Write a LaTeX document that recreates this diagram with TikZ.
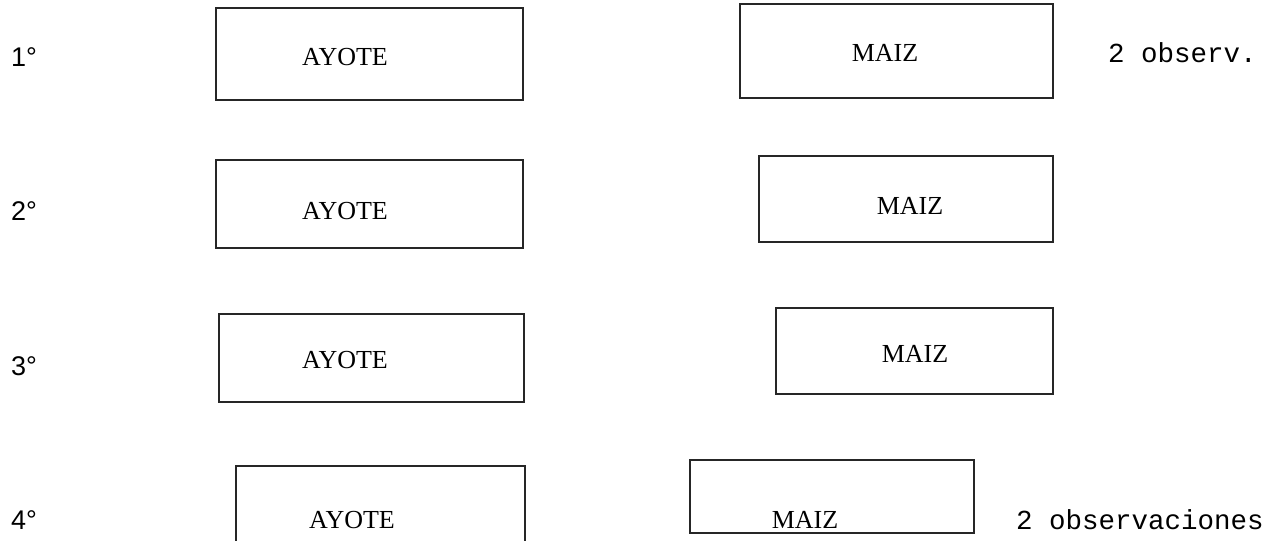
\documentclass[tikz,border=0pt]{standalone}
\usepackage{fontspec}
\setmainfont{Liberation Serif}
\newfontfamily\monof{Liberation Mono}
\newfontfamily\sansf{Liberation Sans}
\begin{document}
\begin{tikzpicture}[x=1pt,y=-1pt]
\tikzset{
  plotbox/.style={draw=black!85, line width=1.2pt, inner sep=0pt},
  croplabel/.style={inner sep=0pt, font=\fontsize{26}{29}\selectfont},
  rowlabel/.style={inner sep=0pt, font=\sansf\fontsize{27}{30}\selectfont},
  notelabel/.style={inner sep=0pt, font=\monof\fontsize{27.5}{30}\selectfont}
}
\useasboundingbox (0,0) rectangle (1278,541);
% row labels
\node[rowlabel] (r1) at (24,57) {1°};
\node[rowlabel] (r2) at (24,211) {2°};
\node[rowlabel] (r3) at (24,366) {3°};
\node[rowlabel] (r4) at (24,520) {4°};
% boxes
\draw[plotbox] (216,8) rectangle (523,100);
\draw[plotbox] (740,4) rectangle (1053,98);
\draw[plotbox] (216,160) rectangle (523,248);
\draw[plotbox] (759,156) rectangle (1053,242);
\draw[plotbox] (219,314) rectangle (524,402);
\draw[plotbox] (776,308) rectangle (1053,394);
\draw[plotbox] (236,466) rectangle (525,545);
\draw[plotbox] (690,460) rectangle (974,533);
% texts
\node[croplabel] (a1) at (345,57) {AYOTE};
\node[croplabel] (m1) at (885,53) {MAIZ};
\node[croplabel] (a2) at (345,211) {AYOTE};
\node[croplabel] (m2) at (910,206) {MAIZ};
\node[croplabel] (a3) at (345,360) {AYOTE};
\node[croplabel] (m3) at (915,354) {MAIZ};
\node[croplabel] (a4) at (352,520) {AYOTE};
\node[croplabel] (m4) at (805,520) {MAIZ};
% notes
\node[notelabel, anchor=west] (n1) at (1108,53) {2 observ.};
\node[notelabel, anchor=west] (n2) at (1016,520) {2 observaciones};
\end{tikzpicture}
\end{document}
